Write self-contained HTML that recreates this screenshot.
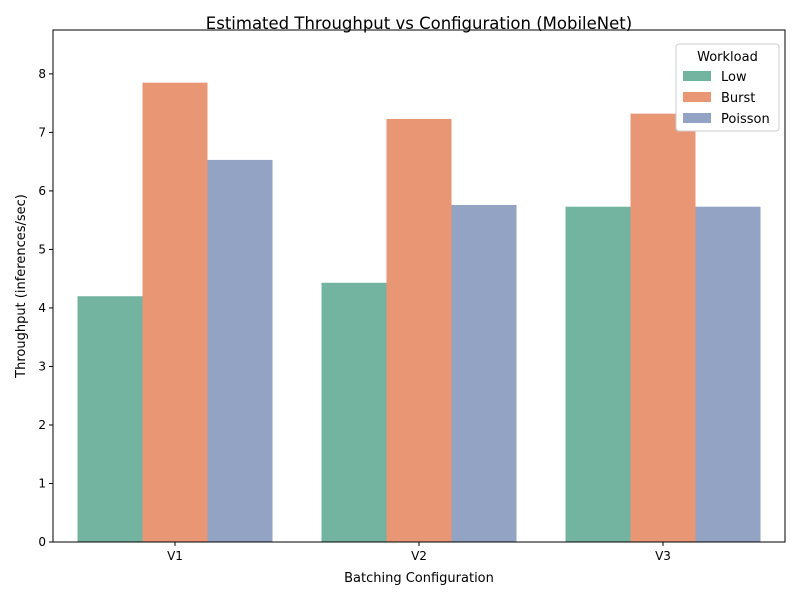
<!DOCTYPE html>
<html><head><meta charset="utf-8"><style>
body{margin:0;background:#fff;font-family:"Liberation Sans","DejaVu Sans",sans-serif}
</style></head><body>
<svg id="chart" width="800" height="600" xmlns="http://www.w3.org/2000/svg" font-family="DejaVu Sans, Liberation Sans, sans-serif">
<text x="419" y="29" text-anchor="middle" font-size="16.5">Estimated Throughput vs Configuration (MobileNet)</text>
<g id="bars"></g>
<g id="axes"></g>
<text x="419" y="582" text-anchor="middle" font-size="13">Batching Configuration</text>
<text x="25" y="286" text-anchor="middle" font-size="13" transform="rotate(-90 25 286)">Throughput (inferences/sec)</text>
<g id="legend"></g>
</svg>
<script>
const categories=["V1","V2","V3"];
const seriesNames=["Low","Burst","Poisson"];
const lowValues=[4.2,4.43,5.73];
const burstValues=[7.85,7.23,7.32];
const poissonValues=[6.53,5.76,5.73];
const yTicks=[0,1,2,3,4,5,6,7,8];
const colors=["#73b4a1","#e89674","#93a3c3"];
const series=[lowValues,burstValues,poissonValues];
const L=53,R=785,T=30,B=542,yMax=8.75;
const NS="http://www.w3.org/2000/svg";
const y=v=>B-(v/yMax)*(B-T);
const groupW=(R-L)/categories.length;
const x=i=>L+groupW*(i+0.5);
const barW=65;
function mk(tag,attrs,parent){const e=document.createElementNS(NS,tag);for(const k in attrs)e.setAttribute(k,attrs[k]);parent.appendChild(e);return e;}
const bars=document.getElementById('bars');
series.forEach((vals,s)=>{vals.forEach((v,i)=>{
 const r=mk('rect',{x:x(i)+(s-1.5)*barW,y:y(v),width:barW,height:B-y(v),fill:colors[s]},bars);
 
 
});});
const ax=document.getElementById('axes');
const frame=mk('rect',{x:L,y:T,width:R-L,height:B-T,fill:'none',stroke:'#000','stroke-width':1},ax);


yTicks.forEach(t=>{
 mk('line',{x1:L-4,x2:L,y1:y(t),y2:y(t),stroke:'#000'},ax);
 const tx=mk('text',{x:L-7,y:y(t)+4,'text-anchor':'end','font-size':12},ax);
 tx.textContent=t;
 
 
});
categories.forEach((c,i)=>{
 mk('line',{x1:x(i),x2:x(i),y1:B,y2:B+4,stroke:'#000'},ax);
 const tx=mk('text',{x:x(i),y:B+18,'text-anchor':'middle','font-size':12},ax);
 tx.textContent=c;
 
 
});
const lg=document.getElementById('legend');
mk('rect',{x:676,y:44,width:103,height:87,rx:3,fill:'#fff',stroke:'#ccc'},lg);
const lt=mk('text',{x:727.5,y:61,'text-anchor':'middle','font-size':13},lg);
lt.textContent='Workload';


seriesNames.forEach((n,s)=>{
 const g=mk('g',{},lg);
 
 
 mk('rect',{x:683,y:71+s*21,width:28,height:10,fill:colors[s]},g);
 const t=mk('text',{x:721,y:81+s*21,'font-size':13},g);
 t.textContent=n;
});
</script>
</body></html>
